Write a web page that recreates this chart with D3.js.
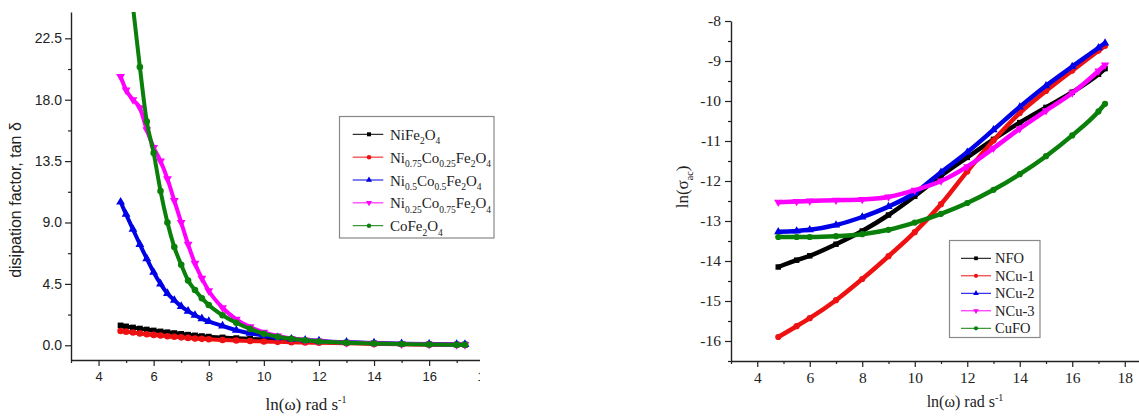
<!DOCTYPE html>
<html><head><meta charset="utf-8">
<script src="https://cdn.jsdelivr.net/npm/d3@7"></script>
<style>body{margin:0;background:#fff}svg{display:block}</style>
</head><body>
<svg id="c" width="1139" height="416"></svg>
<script>
// ---------- data: left panel (dissipation factor) ----------
const xLeft = [4.8, 5.0, 5.25, 5.5, 5.75, 6.0, 6.25, 6.5, 6.75, 7.0, 7.25, 7.5, 7.75, 8.0, 8.5, 9.0, 9.5, 10, 10.5, 11, 11.5, 12, 13, 14, 15, 16, 17, 17.3];
const tanNiFe  = [1.45,1.38,1.30,1.22,1.15,1.08,1.01,0.95,0.89,0.83,0.77,0.72,0.67,0.63,0.57,0.52,0.47,0.42,0.38,0.34,0.30,0.26,0.20,0.14,0.10,0.07,0.05,0.05];
const tanNi75  = [1.05,1.00,0.93,0.87,0.81,0.76,0.71,0.66,0.62,0.58,0.54,0.50,0.47,0.44,0.39,0.35,0.31,0.28,0.25,0.22,0.20,0.18,0.14,0.10,0.07,0.05,0.03,0.03];
const tanNi50  = [10.5,9.6,8.5,7.4,6.35,5.35,4.5,3.8,3.3,2.85,2.5,2.2,1.95,1.75,1.42,1.1,0.88,0.7,0.56,0.46,0.38,0.32,0.23,0.17,0.12,0.09,0.06,0.06];
const tanNi25  = [19.7,18.7,18.0,17.4,15.8,14.5,13.5,12.2,10.6,9.0,7.4,6.0,4.9,4.0,2.75,1.9,1.35,0.95,0.68,0.5,0.38,0.3,0.2,0.15,0.1,0.07,0.05,0.05];
const tanCoFe  = [null,null,24.8,20.4,16.4,14.1,11.3,9.0,7.2,5.9,4.75,4.05,3.45,2.95,2.2,1.65,1.2,0.85,0.62,0.47,0.36,0.28,0.19,0.13,0.09,0.06,0.04,0.04];
const leftNames = ["NiFe_2O_4", "Ni_{0.75}Co_{0.25}Fe_2O_4", "Ni_{0.5}Co_{0.5}Fe_2O_4", "Ni_{0.25}Co_{0.75}Fe_2O_4", "CoFe_2O_4"];
const leftXTicks = [4, 6, 8, 10, 12, 14, 16, 18];
const leftYTicks = [0, 4.5, 9, 13.5, 18, 22.5];

// ---------- data: right panel (ln sigma_ac) ----------
const xRight = [4.8, 5.5, 6, 7, 8, 9, 10, 11, 12, 13, 14, 15, 16, 17, 17.25];
const lnNFO  = [-14.15,-13.98,-13.87,-13.58,-13.25,-12.85,-12.38,-11.87,-11.41,-10.96,-10.54,-10.16,-9.78,-9.33,-9.19];
const lnNCu1 = [-15.9,-15.63,-15.43,-14.98,-14.45,-13.88,-13.28,-12.58,-11.76,-10.99,-10.3,-9.75,-9.24,-8.74,-8.62];
const lnNCu2 = [-13.27,-13.25,-13.22,-13.1,-12.9,-12.64,-12.3,-11.78,-11.28,-10.72,-10.15,-9.62,-9.14,-8.67,-8.55];
const lnNCu3 = [-12.53,-12.51,-12.5,-12.48,-12.46,-12.4,-12.23,-12.0,-11.64,-11.18,-10.69,-10.24,-9.8,-9.25,-9.1];
const lnCuFO = [-13.4,-13.4,-13.4,-13.38,-13.33,-13.22,-13.04,-12.82,-12.55,-12.22,-11.83,-11.38,-10.86,-10.26,-10.07];
const rightNames = ["NFO", "NCu-1", "NCu-2", "NCu-3", "CuFO"];
const rightXTicks = [4, 6, 8, 10, 12, 14, 16, 18];
const rightYTicks = [-16, -15, -14, -13, -12, -11, -10, -9, -8];

const colors = ["#000000", "#ee1111", "#0000e6", "#ff00ff", "#0a800a"];
const symbols = [d3.symbolSquare, d3.symbolCircle, d3.symbolTriangle, "down", d3.symbolCircle];

// ---------- helpers ----------
const svg = d3.select("#c");
svg.append("rect").attr("width", 1139).attr("height", 416).attr("fill", "#fff");
const defs = svg.append("defs");

function rich(t, str, size, small) {
  const re = /([_^])\{([^}]*)\}|([_^])(.)|([^_^]+)/g;
  let m, off = 0;
  while ((m = re.exec(str))) {
    const kind = m[1] || m[3];
    const txt = m[2] || m[4] || m[5];
    const target = kind === "_" ? size * 0.3 : kind === "^" ? -size * 0.4 : 0;
    t.append("tspan").attr("dy", target - off).attr("font-size", kind ? small : size).text(txt);
    off = target;
  }
}
function marker(g, i, x, y, size) {
  const s = symbols[i];
  return g.append("path")
    .attr("d", d3.symbol().type(s === "down" ? d3.symbolTriangle : s).size(size)())
    .attr("fill", colors[i])
    .attr("transform", `translate(${x},${y})` + (s === "down" ? " rotate(180)" : ""));
}
function styleAxis(g, font, fsize) {
  g.attr("font-family", null).attr("font-size", null);
  g.selectAll("path.domain").attr("stroke", "#222").attr("stroke-width", 1.4);
  g.selectAll(".tick line").attr("stroke", "#222").attr("stroke-width", 1.2);
  g.selectAll(".tick text").style("font-family", font).style("font-size", fsize + "px").attr("fill", "#222");
}
const SERIF = "'Liberation Serif', 'Times New Roman', serif";
const SANS = "'Liberation Sans', Arial, sans-serif";

// ---------- left panel ----------
const xL = d3.scaleLinear().domain([3, 19]).range([71, 71 + 16 * 27.55]);
const yL = d3.scaleLinear().domain([-1.08, 24.43]).range([360, 12]);
defs.append("clipPath").attr("id", "clipL").append("rect").attr("x", 0).attr("y", 0).attr("width", 480).attr("height", 416);
defs.append("clipPath").attr("id", "plotL").append("rect").attr("x", 71).attr("y", 12).attr("width", 409).attr("height", 348);
const L = svg.append("g");

const leftSeries = [tanNiFe, tanNi75, tanNi50, tanNi25, tanCoFe];
const plotL = L.append("g").attr("clip-path", "url(#plotL)");
leftSeries.forEach((ys, i) => {
  const pts = xLeft.map((x, k) => [x, ys[k]]).filter(d => d[1] != null);
  plotL.append("path").datum(pts)
    .attr("d", d3.line().x(d => xL(d[0])).y(d => yL(d[1])).curve(d3.curveMonotoneX))
    .attr("fill", "none").attr("stroke", colors[i]).attr("stroke-width", 4).attr("stroke-linejoin", "round");
  pts.forEach(d => marker(plotL, i, xL(d[0]), yL(d[1]), 34));
});

const axL = L.append("g").attr("clip-path", "url(#clipL)");
const gxL = axL.append("g").attr("transform", "translate(0,360)");
gxL.call(d3.axisBottom(xL).tickValues(leftXTicks).tickSize(6).tickSizeOuter(0).tickPadding(6).tickFormat(d3.format("d")));
const gxLm = axL.append("g").attr("transform", "translate(0,360)");
gxLm.call(d3.axisBottom(xL).tickValues(d3.range(3, 20, 2)).tickSize(3).tickSizeOuter(0).tickFormat(""));
gxLm.select(".domain").remove();
styleAxis(gxL, SANS, 13); styleAxis(gxLm, SANS, 13);

const gyL = L.append("g").attr("transform", "translate(71,0)");
gyL.call(d3.axisLeft(yL).tickValues(leftYTicks).tickSize(6).tickSizeOuter(0).tickPadding(3).tickFormat(d3.format(".1f")));
const gyLm = L.append("g").attr("transform", "translate(71,0)");
gyLm.call(d3.axisLeft(yL).tickValues([2.25, 6.75, 11.25, 15.75, 20.25]).tickSize(3).tickSizeOuter(0).tickFormat(""));
gyLm.select(".domain").remove();
styleAxis(gyL, SANS, 14); styleAxis(gyLm, SANS, 14);

L.append("text").attr("transform", "translate(21,200) rotate(-90)").attr("text-anchor", "middle")
  .style("font-family", SANS).attr("font-size", 16).attr("fill", "#222")
  .text("disipation factor, tan δ");
rich(L.append("text").attr("x", 306).attr("y", 410).attr("text-anchor", "middle")
  .style("font-family", SERIF).attr("fill", "#222"), "ln(ω) rad s^{-1}", 17, 10);

// left legend
const lgL = L.append("g");
lgL.append("rect").attr("x", 339.5).attr("y", 116.5).attr("width", 154.5).attr("height", 121.5)
  .attr("fill", "#fff").attr("stroke", "#888").attr("stroke-width", 1.2);
const lgLy = d3.scaleLinear().domain([0, 4]).range([134.3, 225.7]);
leftNames.forEach((n, i) => {
  const y = lgLy(i);
  lgL.append("line").attr("x1", 352.7).attr("x2", 383.3).attr("y1", y).attr("y2", y).attr("stroke", colors[i]).attr("stroke-width", 1);
  marker(lgL, i, 369, y, 16);
  rich(lgL.append("text").attr("x", 390).attr("y", y + 5.5).style("font-family", SERIF).attr("fill", "#222"), n, 15, 9.5);
});

// ---------- right panel ----------
const xR = d3.scaleLinear().domain([3, 19.2]).range([731, 731 + 16.2 * 26.25]);
const yR = d3.scaleLinear().domain([-16.5, -8]).range([361, 21]);
const R = svg.append("g");
const rightSeries = [lnNFO, lnNCu1, lnNCu2, lnNCu3, lnCuFO];
rightSeries.forEach((ys, i) => {
  const pts = xRight.map((x, k) => [x, ys[k]]);
  R.append("path").datum(pts)
    .attr("d", d3.line().x(d => xR(d[0])).y(d => yR(d[1])).curve(d3.curveMonotoneX))
    .attr("fill", "none").attr("stroke", colors[i]).attr("stroke-width", 4.5).attr("stroke-linejoin", "round");
  pts.forEach(d => marker(R, i, xR(d[0]), yR(d[1]), 30));
});

const gxR = R.append("g").attr("transform", "translate(0,361)");
gxR.call(d3.axisBottom(xR).tickValues(rightXTicks).tickSize(6).tickSizeOuter(0).tickPadding(5).tickFormat(d => String(d)));
const gxRm = R.append("g").attr("transform", "translate(0,361)");
gxRm.call(d3.axisBottom(xR).tickValues(d3.range(3, 20, 2)).tickSize(3).tickSizeOuter(0).tickFormat(""));
gxRm.select(".domain").remove();
styleAxis(gxR, SERIF, 15.5); styleAxis(gxRm, SERIF, 15);

const gyR = R.append("g").attr("transform", "translate(731,0)");
gyR.call(d3.axisLeft(yR).tickValues(rightYTicks).tickSize(6).tickSizeOuter(0).tickPadding(4).tickFormat(d => String(d)));
const gyRm = R.append("g").attr("transform", "translate(731,0)");
gyRm.call(d3.axisLeft(yR).tickValues(d3.range(-16.5, -8, 1)).tickSize(3).tickSizeOuter(0).tickFormat(""));
gyRm.select(".domain").remove();
styleAxis(gyR, SERIF, 15.5); styleAxis(gyRm, SERIF, 15);

rich(R.append("text").attr("transform", "translate(688,187) rotate(-90)").attr("text-anchor", "middle")
  .style("font-family", SERIF).attr("fill", "#222"), "ln(σ_{ac})", 17, 10);
rich(R.append("text").attr("x", 965).attr("y", 407).attr("text-anchor", "middle")
  .style("font-family", SERIF).attr("fill", "#222"), "ln(ω) rad s^{-1}", 16, 10);

// right legend
const lgR = R.append("g");
lgR.append("rect").attr("x", 949.5).attr("y", 240.5).attr("width", 90.5).attr("height", 97)
  .attr("fill", "#fff").attr("stroke", "#888").attr("stroke-width", 1.2);
const lgRy = d3.scaleLinear().domain([0, 4]).range([258.3, 328.3]);
rightNames.forEach((n, i) => {
  const y = lgRy(i);
  lgR.append("line").attr("x1", 961).attr("x2", 991).attr("y1", y).attr("y2", y).attr("stroke", colors[i]).attr("stroke-width", 1);
  marker(lgR, i, 976, y, 14);
  lgR.append("text").attr("x", 995).attr("y", y + 5).style("font-family", SERIF)
    .attr("font-size", 14.5).attr("fill", "#222").text(n);
});
</script>
</body></html>
